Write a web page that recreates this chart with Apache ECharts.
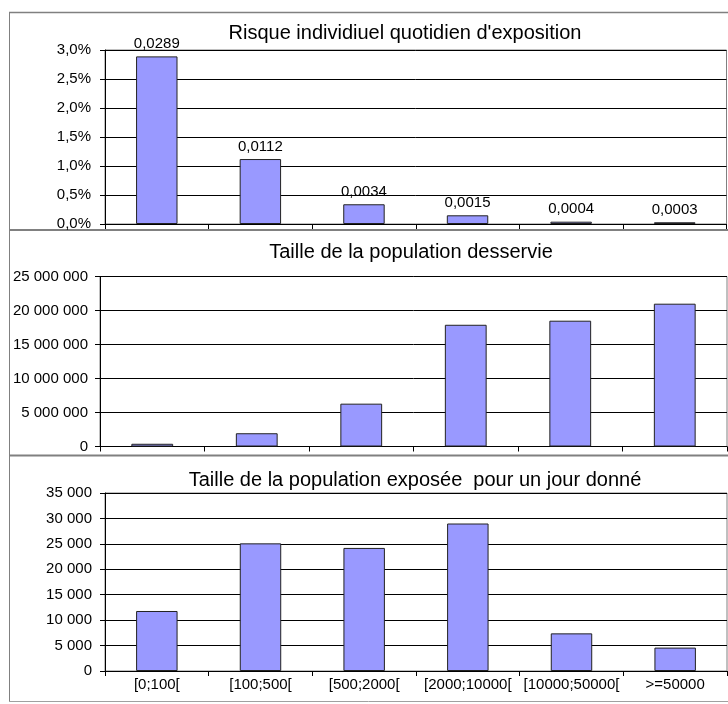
<!DOCTYPE html>
<html>
<head>
<meta charset="utf-8">
<script src="https://cdn.jsdelivr.net/npm/echarts@6/dist/echarts.min.js"></script>
<style>
html,body{margin:0;padding:0;background:#fff;}
#c{width:728px;height:704px;}
</style>
</head>
<body>
<div id="c"></div>
<script>
// ---- data ----
const categories = ['[0;100[', '[100;500[', '[500;2000[', '[2000;10000[', '[10000;50000[', '>=50000'];
const risque = [0.0289, 0.0112, 0.0034, 0.0015, 0.0004, 0.0003];
const populationDesservie = [400000, 1950000, 6300000, 17900000, 18500000, 21000000];
const populationExposee = [11800, 25100, 24200, 29000, 7400, 4600];
const titles = ["Risque individiuel quotidien d'exposition", 'Taille de la population desservie', 'Taille de la population exposée  pour un jour donné'];

const FONT = 'Liberation Sans, Arial, sans-serif';
const BAR = '#9999FF';

function fmtThousands(v) {
  return String(Math.round(v)).replace(/\B(?=(\d{3})+(?!\d))/g, ' ');
}
function fmtPct(v) {
  return (v * 100).toFixed(1).replace('.', ',') + '%';
}
function fmtComma(v) {
  return v.toFixed(4).replace('.', ',');
}

const grids = [
  {left: 105, top: 50, width: 621.5, height: 174},
  {left: 100, top: 276.5, width: 627, height: 170},
  {left: 105, top: 493, width: 622, height: 178}
];

const yCfg = [
  {max: 0.03, interval: 0.005, fmt: fmtPct, margin: 14},
  {max: 25000000, interval: 5000000, fmt: fmtThousands, margin: 12},
  {max: 35000, interval: 5000, fmt: fmtThousands, margin: 13}
];

const seriesData = [risque, populationDesservie, populationExposee];

const option = {
  animation: false,
  backgroundColor: '#fff',
  title: titles.map((t, i) => ({
    text: t,
    left: [405, 411, 415][i],
    top: [33, 252, 480][i],
    padding: 0,
    textAlign: 'center',
    textVerticalAlign: 'middle',
    textStyle: {fontFamily: FONT, fontSize: 20, fontWeight: 'normal', color: '#000'}
  })),
  grid: grids.map(g => Object.assign({show: true, borderColor: '#808080', borderWidth: 1, backgroundColor: 'transparent'}, g)),
  xAxis: [0, 1, 2].map(i => ({
    type: 'category',
    gridIndex: i,
    data: categories,
    boundaryGap: true,
    axisLine: {show: true, lineStyle: {color: '#000', width: 1}},
    axisTick: {show: true, length: 5, inside: false, lineStyle: {color: '#000'}},
    axisLabel: {show: i === 2, interval: 0, margin: 6, fontFamily: FONT, fontSize: 15, color: '#000'},
    splitLine: {show: false}
  })),
  yAxis: [0, 1, 2].map(i => ({
    type: 'value',
    gridIndex: i,
    min: 0,
    max: yCfg[i].max,
    interval: yCfg[i].interval,
    axisLine: {show: true, lineStyle: {color: '#000', width: 1}},
    axisTick: {show: true, length: 5, inside: false, lineStyle: {color: '#000'}},
    axisLabel: {margin: yCfg[i].margin, fontFamily: FONT, fontSize: 15, color: '#000', formatter: yCfg[i].fmt},
    splitLine: {show: true, lineStyle: {color: '#000', width: 1}}
  })),
  series: [0, 1, 2].map(i => ({
    type: 'bar',
    xAxisIndex: i,
    yAxisIndex: i,
    data: seriesData[i],
    barWidth: '40%',
    itemStyle: {color: BAR, borderColor: '#222', borderWidth: 1},
    label: i === 0 ? {
      show: true, position: 'top', distance: 5,
      fontFamily: FONT, fontSize: 15, color: '#000',
      formatter: p => fmtComma(p.value)
    } : {show: false}
  })),
  graphic: [
    {type: 'line', shape: {x1: 9, y1: 12.5, x2: 728, y2: 12.5}, style: {stroke: '#808080', lineWidth: 1.5}, silent: true},
    {type: 'line', shape: {x1: 9.5, y1: 12, x2: 9.5, y2: 702}, style: {stroke: '#808080', lineWidth: 1}, silent: true},
    {type: 'line', shape: {x1: 9, y1: 230, x2: 728, y2: 230}, style: {stroke: '#808080', lineWidth: 2}, silent: true},
    {type: 'line', shape: {x1: 9, y1: 455.5, x2: 728, y2: 455.5}, style: {stroke: '#808080', lineWidth: 2}, silent: true},
    {type: 'line', shape: {x1: 9, y1: 701.5, x2: 728, y2: 701.5}, style: {stroke: '#a0a0a0', lineWidth: 1}, silent: true}
  ]
};

const chart = echarts.init(document.getElementById('c'), null, {renderer: 'canvas'});
chart.setOption(option);
</script>
</body>
</html>
